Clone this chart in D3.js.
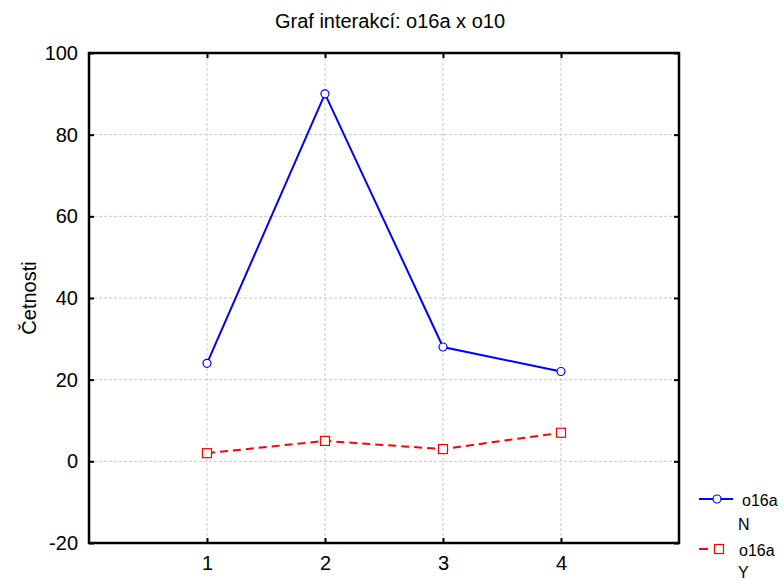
<!DOCTYPE html>
<html><head><meta charset="utf-8">
<script src="https://cdn.jsdelivr.net/npm/d3@7"></script>
<style>body{margin:0;background:#fff}text{font-family:"Liberation Sans",Arial,sans-serif}</style>
</head><body><svg id="c" width="784" height="581"></svg>
<script>
const categories = [1, 2, 3, 4];
const seriesN = [24, 90, 28, 22];
const seriesY = [2, 5, 3, 7];
const yTicks = [-20, 0, 20, 40, 60, 80, 100];
const title = "Graf interakcí: o16a x o10";
const yLabel = "Četnosti";
const legendNames = [["o16a", "N"], ["o16a", "Y"]];

const svg = d3.select("#c");
const L = 89, R = 679, T = 53, B = 543;
const x = d3.scaleLinear().domain([0, 5]).range([L, R]);
const y = d3.scaleLinear().domain([-20, 100]).range([B, T]);
const FS = 20;

// grid
const g = svg.append("g");
g.selectAll(".gy").data(yTicks.slice(1, -1)).enter().append("line")
  .attr("x1", L).attr("x2", R).attr("y1", d => y(d)).attr("y2", d => y(d))
  .attr("stroke", "#c8c8c8").attr("stroke-dasharray", "3,2");
g.selectAll(".gx").data(categories).enter().append("line")
  .attr("y1", T).attr("y2", B).attr("x1", d => x(d)).attr("x2", d => x(d))
  .attr("stroke", "#c8c8c8").attr("stroke-dasharray", "3,2");

// axes with inward ticks
const fmt = d => String(d);
const axB = d3.axisBottom(x).tickValues(categories).tickSize(-5).tickPadding(13).tickFormat(fmt);
const axT = d3.axisTop(x).tickValues(categories).tickSize(-5).tickFormat("");
const axL = d3.axisLeft(y).tickValues(yTicks).tickSize(-5).tickPadding(11).tickFormat(fmt);
const axR = d3.axisRight(y).tickValues(yTicks).tickSize(-5).tickFormat("");
function style(sel) {
  sel.select(".domain").remove();
  sel.selectAll(".tick line").attr("stroke", "#000").attr("stroke-width", 2);
  sel.selectAll(".tick text").attr("font-size", FS).attr("fill", "#000").style("font-family", "'Liberation Sans',Arial,sans-serif");
}
svg.append("g").attr("transform", `translate(0,${B})`).call(axB).call(style);
svg.append("g").attr("transform", `translate(0,${T})`).call(axT).call(style);
svg.append("g").attr("transform", `translate(${L},0)`).call(axL).call(style);
svg.append("g").attr("transform", `translate(${R},0)`).call(axR).call(style);

// frame
svg.append("rect").attr("x", L).attr("y", T).attr("width", R - L).attr("height", B - T)
  .attr("fill", "none").attr("stroke", "#000").attr("stroke-width", 2.5);

const line = d3.line().x((d, i) => x(categories[i])).y(d => y(d));
svg.append("path").datum(seriesN).attr("d", line).attr("fill", "none").attr("stroke", "#0000ff").attr("stroke-width", 2);
svg.append("path").datum(seriesY).attr("d", line).attr("fill", "none").attr("stroke", "#ff0000").attr("stroke-width", 2).attr("stroke-dasharray", "8,5");

svg.selectAll(".mn").data(seriesN).enter().append("circle")
  .attr("cx", (d, i) => x(categories[i])).attr("cy", d => y(d)).attr("r", 4)
  .attr("fill", "#fff").attr("stroke", "#0000ff").attr("stroke-width", 1.2);
svg.selectAll(".my").data(seriesY).enter().append("rect")
  .attr("x", (d, i) => x(categories[i]) - 4.5).attr("y", d => y(d) - 4.5).attr("width", 9).attr("height", 9)
  .attr("fill", "#fff").attr("stroke", "#ff0000").attr("stroke-width", 1.2);

// title & y label
svg.append("text").attr("x", 390).attr("y", 28).attr("text-anchor", "middle").attr("font-size", 20).text(title);
svg.append("text").attr("transform", "translate(36,298) rotate(-90)").attr("text-anchor", "middle").attr("font-size", 20).text(yLabel);

// legend
const lg = svg.append("g");
const LFS = 16;
lg.append("line").attr("x1", 699).attr("x2", 733).attr("y1", 499).attr("y2", 499).attr("stroke", "#0000ff").attr("stroke-width", 2);
lg.append("circle").attr("cx", 717).attr("cy", 499).attr("r", 4).attr("fill", "#fff").attr("stroke", "#0000ff").attr("stroke-width", 1.2);
lg.append("text").attr("x", 742).attr("y", 506).attr("font-size", LFS).text(legendNames[0][0]);
lg.append("text").attr("x", 738).attr("y", 530).attr("font-size", LFS).text(legendNames[0][1]);
lg.append("line").attr("x1", 699).attr("x2", 726).attr("y1", 549).attr("y2", 549).attr("stroke", "#ff0000").attr("stroke-width", 2).attr("stroke-dasharray", "9,6");
lg.append("rect").attr("x", 719 - 4.5).attr("y", 549 - 4.5).attr("width", 9).attr("height", 9).attr("fill", "#fff").attr("stroke", "#ff0000").attr("stroke-width", 1.2);
lg.append("text").attr("x", 739).attr("y", 556).attr("font-size", LFS).text(legendNames[1][0]);
lg.append("text").attr("x", 738).attr("y", 578).attr("font-size", LFS).text(legendNames[1][1]);
</script></body></html>
